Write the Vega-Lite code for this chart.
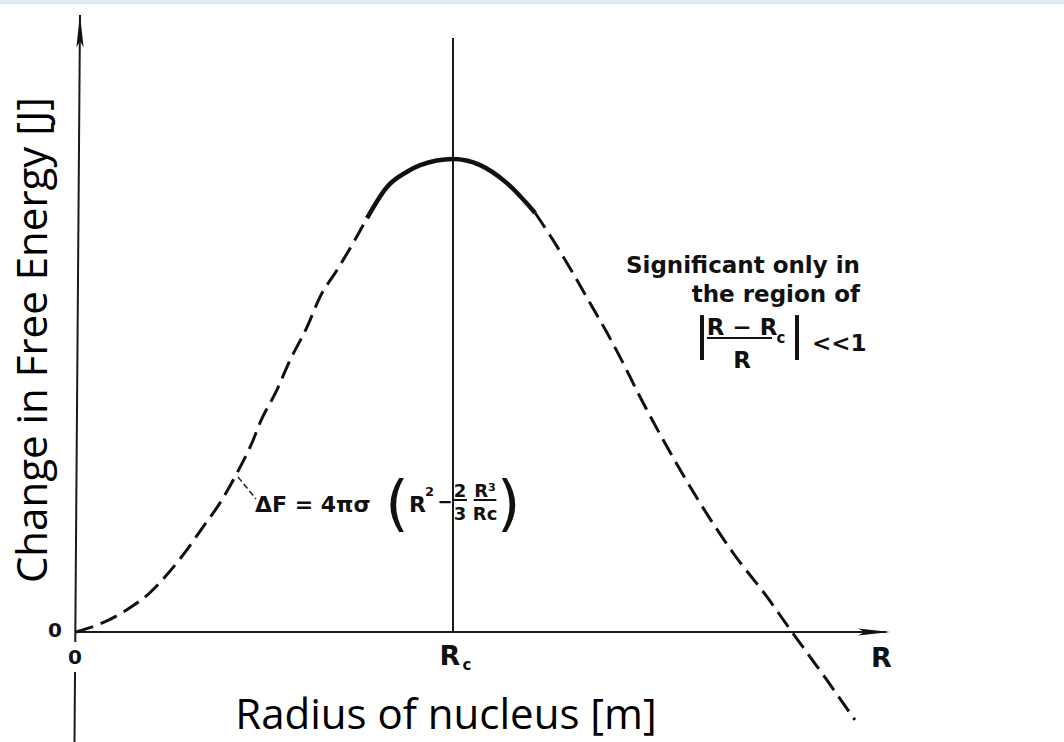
{
  "$schema": "https://vega.github.io/schema/vega-lite/v6.json",
  "width": 1064,
  "height": 742,
  "padding": 0,
  "autosize": {"type": "none"},
  "background": "white",
  "config": {"view": {"stroke": null}},
  "datasets": {
    "curve": [
      {"x": 0.0, "y": 0.0, "part": "dashed"},
      {"x": 0.064, "y": 0.017, "part": "dashed"},
      {"x": 0.135, "y": 0.047, "part": "dashed"},
      {"x": 0.196, "y": 0.083, "part": "dashed"},
      {"x": 0.241, "y": 0.121, "part": "dashed"},
      {"x": 0.284, "y": 0.163, "part": "dashed"},
      {"x": 0.337, "y": 0.222, "part": "dashed"},
      {"x": 0.382, "y": 0.273, "part": "dashed"},
      {"x": 0.427, "y": 0.336, "part": "dashed"},
      {"x": 0.470, "y": 0.406, "part": "dashed"},
      {"x": 0.488, "y": 0.442, "part": "dashed"},
      {"x": 0.533, "y": 0.512, "part": "dashed"},
      {"x": 0.568, "y": 0.575, "part": "dashed"},
      {"x": 0.613, "y": 0.645, "part": "dashed"},
      {"x": 0.647, "y": 0.708, "part": "dashed"},
      {"x": 0.692, "y": 0.765, "part": "dashed"},
      {"x": 0.735, "y": 0.822, "part": "dashed"},
      {"x": 0.772, "y": 0.875, "part": "dashed"},
      {"x": 0.772, "y": 0.875, "part": "solid"},
      {"x": 0.825, "y": 0.941, "part": "solid"},
      {"x": 0.878, "y": 0.973, "part": "solid"},
      {"x": 0.913, "y": 0.987, "part": "solid"},
      {"x": 1.0, "y": 1.0, "part": "solid"},
      {"x": 1.072, "y": 0.987, "part": "solid"},
      {"x": 1.143, "y": 0.949, "part": "solid"},
      {"x": 1.218, "y": 0.886, "part": "solid"},
      {"x": 1.218, "y": 0.886, "part": "dashed2"},
      {"x": 1.265, "y": 0.829, "part": "dashed2"},
      {"x": 1.318, "y": 0.759, "part": "dashed2"},
      {"x": 1.363, "y": 0.696, "part": "dashed2"},
      {"x": 1.409, "y": 0.632, "part": "dashed2"},
      {"x": 1.451, "y": 0.569, "part": "dashed2"},
      {"x": 1.491, "y": 0.505, "part": "dashed2"},
      {"x": 1.568, "y": 0.391, "part": "dashed2"},
      {"x": 1.655, "y": 0.273, "part": "dashed2"},
      {"x": 1.743, "y": 0.167, "part": "dashed2"},
      {"x": 1.833, "y": 0.074, "part": "dashed2"},
      {"x": 1.899, "y": 0.0, "part": "dashed2"},
      {"x": 1.992, "y": -0.102, "part": "dashed2"},
      {"x": 2.066, "y": -0.186, "part": "dashed2"}
    ],
    "axes": [
      {"x": 0.0106, "y": 1.3044, "x2": -0.002, "y2": -0.021},
      {"x": -0.0026, "y": -0.0846, "x2": -0.004, "y2": -0.2326},
      {"x": 0.0, "y": 0.0, "x2": 2.15, "y2": 0.0},
      {"x": 1.0, "y": 1.2558, "x2": 1.0, "y2": 0.0}
    ]
  },
  "encoding": {
    "x": {"field": "x", "type": "quantitative", "scale": {"domain": [-0.2016, 2.6207], "nice": false, "zero": false}, "axis": null},
    "y": {"field": "y", "type": "quantitative", "scale": {"domain": [-0.2326, 1.3362], "nice": false, "zero": false}, "axis": null}
  },
  "layer": [
    {
      "data": {"values": [{"x": -0.25, "x2": 2.7, "y": 1.327, "y2": 1.345}]},
      "mark": {"type": "rect", "color": "#dde8f3"},
      "encoding": {"x2": {"field": "x2"}, "y2": {"field": "y2"}}
    },
    {
      "data": {"name": "axes"},
      "mark": {"type": "rule", "color": "#1a1a1a", "strokeWidth": 2},
      "encoding": {"x2": {"field": "x2"}, "y2": {"field": "y2"}}
    },
    {
      "data": {"name": "curve"},
      "transform": [{"filter": "datum.part != 'solid'"}],
      "mark": {"type": "line", "color": "#111111", "strokeWidth": 3, "strokeDash": [18, 8], "interpolate": "monotone"},
      "encoding": {"detail": {"field": "part"}}
    },
    {
      "data": {"name": "curve"},
      "transform": [{"filter": "datum.part == 'solid'"}],
      "mark": {"type": "line", "color": "#111111", "strokeWidth": 4.5, "interpolate": "monotone"},
      "encoding": {}
    },
    {
      "data": {"values": [{"x": 0.4297, "y": 0.3277, "x2": 0.4775, "y2": 0.2812}]},
      "mark": {"type": "rule", "color": "#222222", "strokeWidth": 1.5, "strokeDash": [6, 3]},
      "encoding": {"x2": {"field": "x2"}, "y2": {"field": "y2"}}
    },
    {
      "data": {"values": [{"x": 2.1167, "y": 0.0}]},
      "mark": {"type": "point", "filled": true, "color": "#111111", "opacity": 1, "size": 1024, "shape": "M-1,-0.22L1,0L-1,0.22L-0.6,0Z"},
      "encoding": {}
    },
    {
      "data": {"values": [{"x": 0.0106, "y": 1.2706}]},
      "mark": {"type": "point", "filled": true, "color": "#111111", "opacity": 1, "size": 1089, "shape": "M-0.22,1L0,-1L0.22,1L0,0.6Z"},
      "encoding": {}
    },
    {
      "data": {"values": [
        {"x": 1.6605, "y": 0.670, "y2": 0.575},
        {"x": 1.9125, "y": 0.670, "y2": 0.575}
      ]},
      "mark": {"type": "rule", "color": "#111111", "strokeWidth": 4},
      "encoding": {"y2": {"field": "y2"}}
    },
    {
      "data": {"values": [
        {"x": 1.6737, "x2": 1.8462, "y": 0.6216},
        {"x": 1.0, "x2": 1.037, "y": 0.279},
        {"x": 1.055, "x2": 1.115, "y": 0.279}
      ]},
      "mark": {"type": "rule", "color": "#111111", "strokeWidth": 2},
      "encoding": {"x2": {"field": "x2"}}
    },
    {
      "data": {"values": [
        {"x": -0.0557, "y": 0.0021, "t": "0"},
        {"x": -0.0027, "y": -0.055, "t": "0"}
      ]},
      "mark": {"type": "text", "font": "DejaVu Sans", "fontSize": 20, "fontWeight": "bold", "color": "#111111", "align": "center", "baseline": "middle"},
      "encoding": {"text": {"field": "t"}}
    },
    {
      "data": {"values": [
        {"x": 0.992, "y": -0.0529, "t": "R"},
        {"x": 2.1366, "y": -0.0571, "t": "R"}
      ]},
      "mark": {"type": "text", "font": "DejaVu Sans", "fontSize": 27, "fontWeight": "bold", "color": "#111111", "align": "center", "baseline": "middle"},
      "encoding": {"text": {"field": "t"}}
    },
    {
      "data": {"values": [
        {"x": 1.0371, "y": -0.0803, "t": "c"},
        {"x": 1.870, "y": 0.611, "t": "c"}
      ]},
      "mark": {"type": "text", "font": "DejaVu Sans", "fontSize": 15, "fontWeight": "bold", "color": "#111111", "align": "center", "baseline": "alphabetic"},
      "encoding": {"text": {"field": "t"}}
    },
    {
      "data": {"values": [
        {"x": 2.0796, "y": 0.759, "t": "Significant only in"},
        {"x": 2.0796, "y": 0.6977, "t": "the region of"}
      ]},
      "mark": {"type": "text", "font": "DejaVu Sans", "fontSize": 23, "fontWeight": "bold", "color": "#111111", "align": "right", "baseline": "alphabetic"},
      "encoding": {"text": {"field": "t"}}
    },
    {
      "data": {"values": [
        {"x": 1.7666, "y": 0.6279, "t": "R − R"},
        {"x": 1.7666, "y": 0.5581, "t": "R"}
      ]},
      "mark": {"type": "text", "font": "DejaVu Sans", "fontSize": 23, "fontWeight": "bold", "color": "#111111", "align": "center", "baseline": "alphabetic"},
      "encoding": {"text": {"field": "t"}}
    },
    {
      "data": {"values": [
        {"x": 1.9523, "y": 0.5941, "t": "<<1"}
      ]},
      "mark": {"type": "text", "font": "DejaVu Sans", "fontSize": 23, "fontWeight": "bold", "color": "#111111", "align": "left", "baseline": "alphabetic"},
      "encoding": {"text": {"field": "t"}}
    },
    {
      "data": {"values": [
        {"x": 0.4748, "y": 0.2537, "t": "ΔF = 4πσ"},
        {"x": 0.8833, "y": 0.2537, "t": "R"}
      ]},
      "mark": {"type": "text", "font": "DejaVu Sans", "fontSize": 22, "fontWeight": "bold", "color": "#111111", "align": "left", "baseline": "alphabetic"},
      "encoding": {"text": {"field": "t"}}
    },
    {
      "data": {"values": [
        {"x": 0.979, "y": 0.262, "t": "−"},
        {"x": 1.0186, "y": 0.2854, "t": "2"},
        {"x": 1.0186, "y": 0.2368, "t": "3"},
        {"x": 1.085, "y": 0.2854, "t": "R³"},
        {"x": 1.085, "y": 0.2368, "t": "Rc"}
      ]},
      "mark": {"type": "text", "font": "DejaVu Sans", "fontSize": 18, "fontWeight": "bold", "color": "#111111", "align": "center", "baseline": "alphabetic"},
      "encoding": {"text": {"field": "t"}}
    },
    {
      "data": {"values": [
        {"x": 0.9257, "y": 0.2875, "t": "2"}
      ]},
      "mark": {"type": "text", "font": "DejaVu Sans", "fontSize": 13, "fontWeight": "bold", "color": "#111111", "align": "left", "baseline": "alphabetic"},
      "encoding": {"text": {"field": "t"}}
    },
    {
      "data": {"values": [
        {"x": 0.8515, "y": 0.2664, "t": "("},
        {"x": 1.148, "y": 0.2664, "t": ")"}
      ]},
      "mark": {"type": "text", "font": "DejaVu Sans", "fontSize": 60, "fontWeight": "normal", "color": "#111111", "align": "center", "baseline": "middle"},
      "encoding": {"text": {"field": "t"}}
    },
    {
      "data": {"values": [
        {"x": -0.0769, "y": 0.6173, "t": "Change in Free Energy [J]"}
      ]},
      "mark": {"type": "text", "font": "Open Sans", "fontSize": 42, "color": "#000000", "align": "center", "baseline": "alphabetic", "angle": 270},
      "encoding": {"text": {"field": "t"}}
    },
    {
      "data": {"values": [
        {"x": 0.9814, "y": -0.2051, "t": "Radius of nucleus [m]"}
      ]},
      "mark": {"type": "text", "font": "Open Sans", "fontSize": 42, "color": "#000000", "align": "center", "baseline": "alphabetic"},
      "encoding": {"text": {"field": "t"}}
    }
  ]
}
